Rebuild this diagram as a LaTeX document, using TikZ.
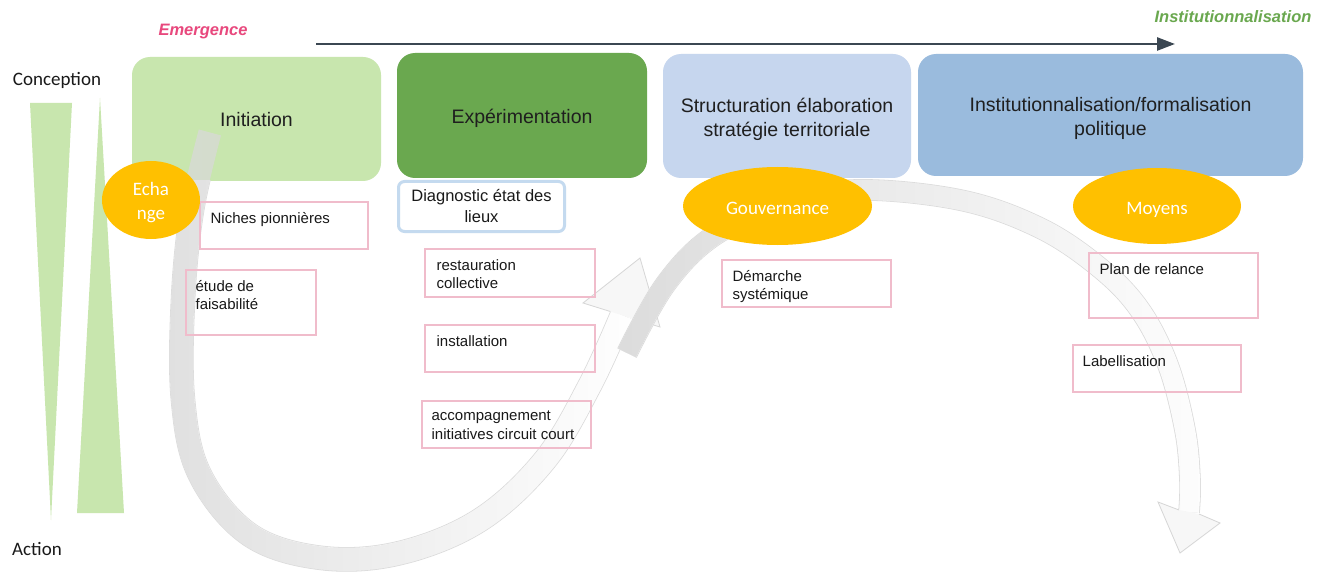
\documentclass[tikz,border=0pt]{standalone}
\usepackage{fontspec}
\setmainfont{Liberation Sans}
\newfontfamily\calibri{Carlito}
\usetikzlibrary{shapes.geometric,arrows.meta,fadings}
\definecolor{cInit}{HTML}{C8E6AE}
\definecolor{cExp}{HTML}{6AA84F}
\definecolor{cStr}{HTML}{C6D6EE}
\definecolor{cInst}{HTML}{9ABBDD}
\definecolor{cOrange}{HTML}{FFC000}
\definecolor{cPink}{HTML}{F0BCCB}
\definecolor{cDiag}{HTML}{C4DAEF}
\definecolor{cDark}{HTML}{3B4752}
\definecolor{cEmer}{HTML}{E8487D}
\definecolor{cInstLab}{HTML}{6AA84F}
\tikzfading[name=fadeA, left color=transparent!0, middle color=transparent!45, right color=transparent!100]
\tikzfading[name=fadeB, left color=transparent!0, middle color=transparent!30, right color=transparent!95]
\begin{document}
\begin{tikzpicture}[x=1pt,y=-1pt,
  phase/.style={rounded corners=18pt, inner sep=0pt},
  phasetxt/.style={inner sep=0pt, align=center, text=black!88,
    font=\fontsize{19.5}{24}\selectfont},
  pbox/.style={draw=cPink, line width=1.1pt, inner sep=0pt},
  btxt/.style={anchor=north west, inner sep=0pt, align=left, text=black!90,
    font=\fontsize{15}{18.5}\selectfont},
  oval/.style={ellipse, fill=cOrange, inner sep=0pt},
  ovaltxt/.style={text=white, inner sep=0pt, align=center,
    font=\calibri\fontsize{19}{24}\selectfont},
  diagbox/.style={draw=cDiag, line width=3pt, rounded corners=6pt, fill=white,
    inner sep=0pt, align=center, text=black!90, font=\fontsize{16.5}{21}\selectfont},
  sidelab/.style={font=\calibri\fontsize{19}{22}\selectfont, inner sep=0pt, text=black!90},
  toplab/.style={font=\bfseries\itshape\fontsize{16.5}{20}\selectfont, inner sep=0pt},
  bandedge/.style={draw=black!14, line width=0.8pt, double=white},
  headstyle/.style={draw=black!16, line width=0.8pt, fill=black!3},
  timearrow/.style={draw=cDark, line width=2.6pt, -{Triangle[length=18pt,width=13pt]}}
]
\useasboundingbox[fill=white] (0,0) rectangle (1332,572);

% side triangles
\fill[cInit] (30,103) -- (72,103) -- (51,520) -- cycle;
\fill[cInit] (100,98) -- (124,513) -- (77,513) -- cycle;

% top labels and time arrow
\node[toplab, text=cEmer] (emer) at (203,32) {Emergence};
\node[toplab, text=cInstLab] (instlab) at (1233,17) {Institutionnalisation};
\coordinate (ts) at (316,44);
\coordinate (te) at (1175,44);
\draw[timearrow] (ts) -- (te);

\node[sidelab] (conc) at (57,80) {Conception};
\node[sidelab] (act) at (37,548.5) {Action};

% phase boxes
\node[phase, fill=cInit, minimum width=249pt, minimum height=124pt] (init) at (256.5,119) {};
\node[phase, fill=cExp, minimum width=250pt, minimum height=125pt] (exp) at (522,115.5) {};
\node[phase, fill=cStr, minimum width=248pt, minimum height=124pt] (str) at (787,116) {};
\node[phase, fill=cInst, minimum width=385pt, minimum height=122pt] (inst) at (1110.5,115) {};

% diagnostic box
\node[diagbox, minimum width=166pt, minimum height=50pt] (diag) at (481.5,206.5) {Diagnostic état des\\lieux};

% big arrow 1 (left loop)
\begin{scope}
  \clip (0,181) rectangle (1332,572);
  \draw[bandedge, double distance=23pt] plot[smooth,tension=0.6] coordinates {(210,132) (192,210) (183,300) (183,400) (200,475) (250,535) (322,558) (400,553) (480,520) (545,460) (590,385) (622,315)};
\end{scope}
\draw[draw=black!15, line width=23pt, opacity=0.8, path fading=fadeA] plot[smooth,tension=0.6] coordinates {(210,132) (192,210) (183,300) (183,400) (200,475) (250,535) (322,558) (400,553) (480,520) (545,460) (590,385) (622,315)};
\filldraw[headstyle] (610,311.4) -- (583,303) -- (640,258) -- (660,327) -- (634,319);

% big arrow 2 (right arc)
\draw[bandedge, double distance=20pt] plot[smooth,tension=0.6] coordinates {(627,353) (665,285) (712,237) (780,205) (855,190) (960,200) (1040,228) (1100,268) (1140,310) (1168,365) (1185,430) (1190,480) (1189,512)};
\draw[draw=black!16, line width=20pt, opacity=0.85, path fading=fadeB] plot[smooth,tension=0.6] coordinates {(627,353) (665,285) (712,237) (780,205) (855,190) (960,200) (1040,228) (1100,268) (1140,310) (1168,365) (1185,430) (1190,480) (1189,512)};
\filldraw[headstyle] (1179,510) -- (1158,502) -- (1180,553) -- (1220,523) -- (1199,514);

% pink boxes
\node[pbox, minimum width=168pt, minimum height=47pt] (niche) at (284,225.5) {};
\node[pbox, minimum width=130pt, minimum height=65pt] (etude) at (251,302.5) {};
\node[pbox, minimum width=170pt, minimum height=48pt] (resto) at (510,273) {};
\node[pbox, minimum width=170pt, minimum height=47pt] (instal) at (510,348.5) {};
\node[pbox, minimum width=169pt, minimum height=47pt] (accomp) at (506.5,424.5) {};
\node[pbox, minimum width=169pt, minimum height=47pt] (demar) at (806.5,283.5) {};
\node[pbox, minimum width=169pt, minimum height=65pt] (plan) at (1173.5,285.5) {};
\node[pbox, minimum width=168pt, minimum height=47pt] (label) at (1157,368.5) {};

% phase texts
\node[phasetxt] (tinit) at ([shift={(0,1)}]init.center) {Initiation};
\node[phasetxt] (texp) at ([shift={(0,3)}]exp.center) {Expérimentation};
\node[phasetxt] (tstr) at ([shift={(0,3)}]str.center) {Structuration élaboration\\stratégie territoriale};
\node[phasetxt] (tinst) at ([shift={(0,3)}]inst.center) {Institutionnalisation/formalisation\\politique};

% box texts
\node[btxt] (tniche) at ([shift={(11,10.5)}]niche.north west) {Niches pionnières};
\node[btxt] (tetude) at ([shift={(10,10.5)}]etude.north west) {étude de\\faisabilité};
\node[btxt] (tresto) at ([shift={(12,10.5)}]resto.north west) {restauration\\collective};
\node[btxt] (tinstal) at ([shift={(12,10.5)}]instal.north west) {installation};
\node[btxt] (taccomp) at ([shift={(10,10.5)}]accomp.north west) {accompagnement\\initiatives circuit court};
\node[btxt] (tdemar) at ([shift={(11,10.5)}]demar.north west) {Démarche\\systémique};
\node[btxt] (tplan) at ([shift={(11,10.5)}]plan.north west) {Plan de relance};
\node[btxt] (tlabel) at ([shift={(10,10.5)}]label.north west) {Labellisation};

% ovals
\node[oval, minimum width=98pt, minimum height=78pt] (ech) at (151,200) {};
\node[oval, minimum width=189pt, minimum height=78pt] (gouv) at (777.5,206) {};
\node[oval, minimum width=168pt, minimum height=76pt] (moy) at (1157,206) {};
\node[ovaltxt] (tech) at ([shift={(0,2.5)}]ech.center) {Echa\\nge};
\node[ovaltxt] (tgouv) at ([shift={(0,2)}]gouv.center) {Gouvernance};
\node[ovaltxt] (tmoy) at ([shift={(0,4)}]moy.center) {Moyens};
\end{tikzpicture}
\end{document}
